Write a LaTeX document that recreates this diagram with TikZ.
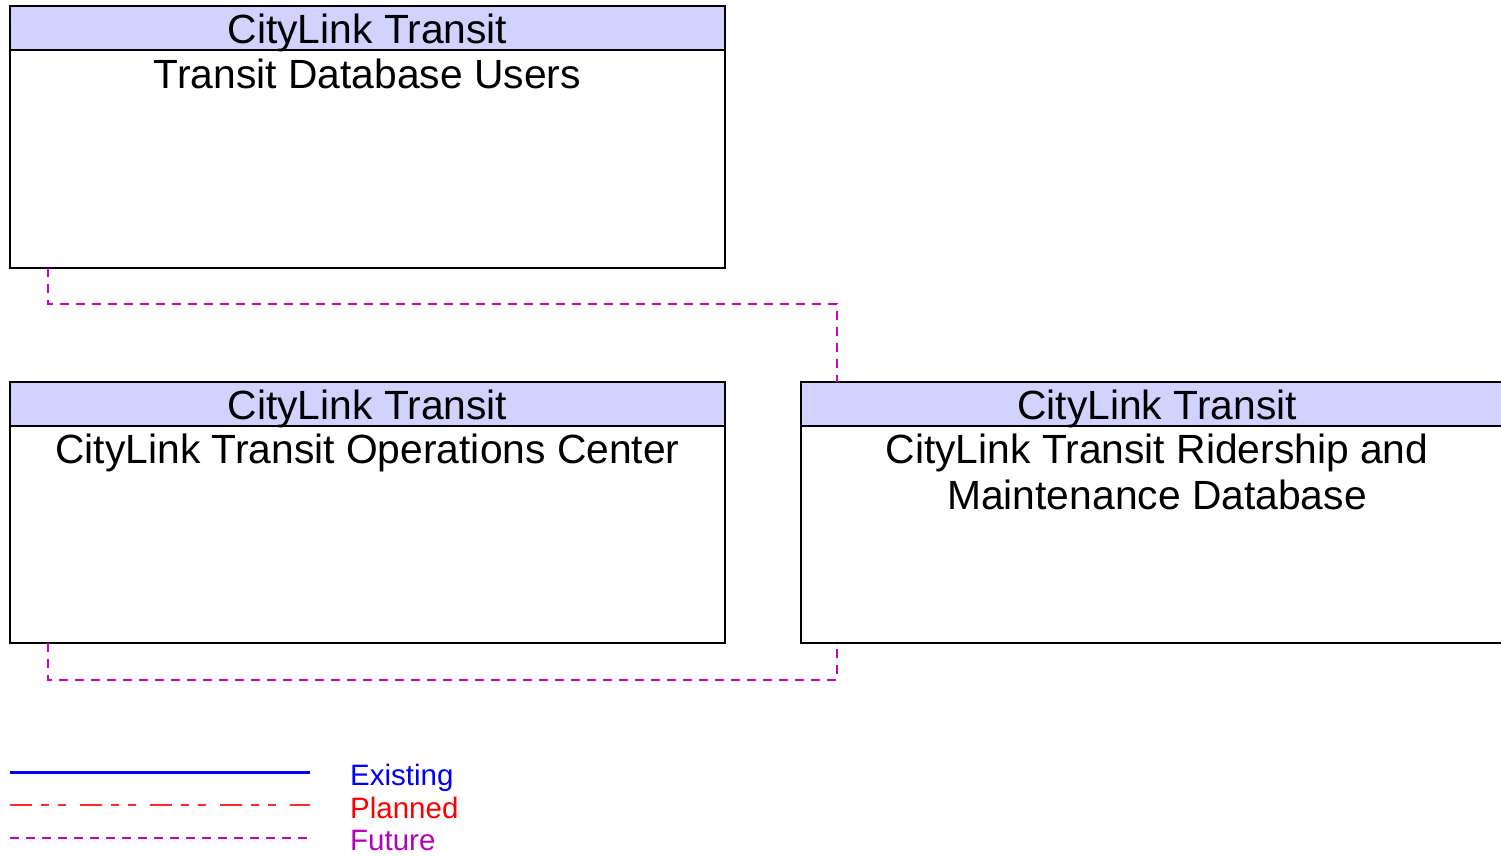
\documentclass[tikz,border=0pt]{standalone}
\usepackage{fontspec}
\setmainfont{Liberation Sans}
\definecolor{hdr}{RGB}{210,210,255}
\definecolor{fut}{RGB}{200,0,200}
\definecolor{futtxt}{RGB}{180,0,190}
\definecolor{plan}{RGB}{255,40,40}
\begin{document}
\begin{tikzpicture}[x=1pt,y=-1pt,
  boxbody/.style={draw=black,line width=1.7pt,fill=white},
  boxhead/.style={draw=black,line width=1.7pt,fill=hdr},
  bigtxt/.style={font=\fontsize{40.8}{46}\selectfont,anchor=base,inner sep=0pt,align=center},
  futline/.style={draw=fut,line width=1.2pt,dash pattern=on 9pt off 7pt},
  legtxt/.style={font=\fontsize{29.5}{32}\selectfont,anchor=base west,inner sep=0pt}]
\useasboundingbox (0,0) rectangle (1501,855);
\begin{scope}
\clip (0,0) rectangle (1501,855);
% Box 1
\draw[boxbody] (10,6) rectangle (725,268);
\draw[boxhead] (10,6) rectangle (725,50);
\node[bigtxt] (h1) at (367.5,43) {CityLink Transit};
\node[bigtxt] (b1) at (367.5,88) {Transit Database Users};
\coordinate (u1) at (48,268);
% Box 2
\draw[boxbody] (10,382) rectangle (725,643);
\draw[boxhead] (10,382) rectangle (725,426);
\node[bigtxt] (h2) at (367.5,419) {CityLink Transit};
\node[bigtxt] (b2) at (367.5,463) {CityLink Transit Operations Center};
\coordinate (o1) at (48,643);
% Box 3
\draw[boxbody] (801,382) rectangle (1516,643);
\draw[boxhead] (801,382) rectangle (1516,426);
\node[bigtxt] (h3) at (1157,419) {CityLink Transit};
\node[bigtxt] (b3) at (1157,509) {CityLink Transit Ridership and\\Maintenance Database};
\coordinate (d1) at (837,382);
\coordinate (d2) at (837,643);
\end{scope}
% connectors
\draw[futline] (u1) -- (48,304) -- (837,304) -- (d1);
\draw[futline] (o1) -- (48,680) -- (837,680) -- (d2);
% legend
\coordinate (le1) at (10,772); \coordinate (le2) at (310,772);
\coordinate (lp1) at (10,805); \coordinate (lp2) at (310,805);
\coordinate (lf1) at (10,838); \coordinate (lf2) at (310,838);
\draw[blue,line width=3pt] (le1) -- (le2);
\draw[plan,line width=1.4pt,dash pattern=on 22pt off 9pt on 8pt off 9pt on 8pt off 14pt] (lp1) -- (lp2);
\draw[futline] (lf1) -- (lf2);
\node[legtxt,text=blue] (lt1) at (350,785) {Existing};
\node[legtxt,text=red] (lt2) at (350,818) {Planned};
\node[legtxt,text=futtxt] (lt3) at (350,850) {Future};
\end{tikzpicture}
\end{document}
